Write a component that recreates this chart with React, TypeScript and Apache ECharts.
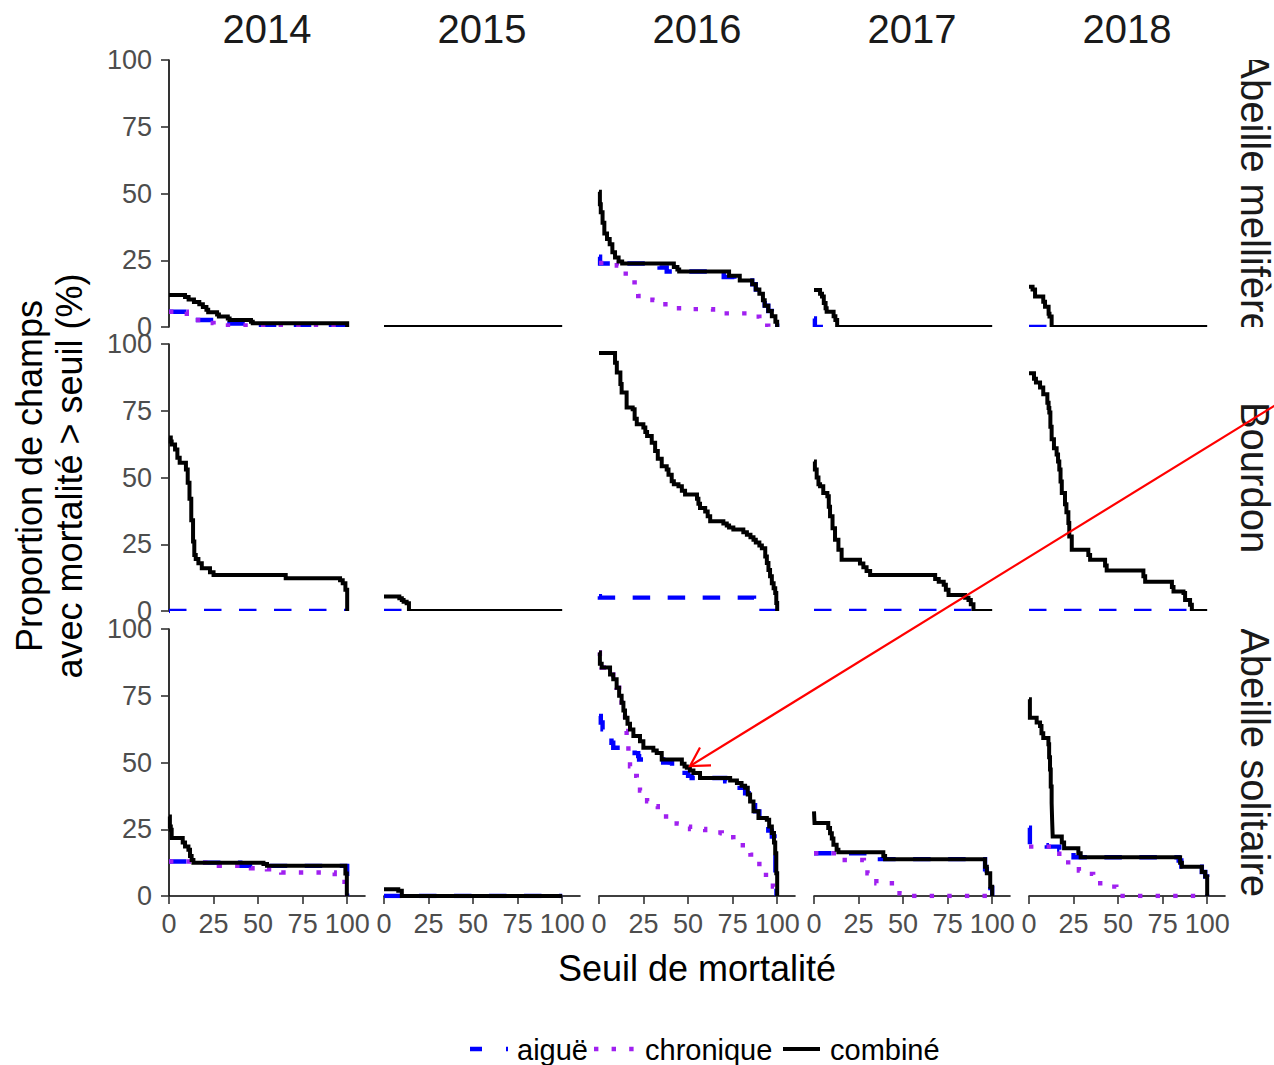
import React, { useEffect, useRef } from 'react';
import * as echarts from 'echarts';

// ---------- labels ----------
const years = ['2014', '2015', '2016', '2017', '2018'];
const groups = ['Abeille mellifère', 'Bourdon', 'Abeille solitaire'];
const seriesNames = ['aiguë', 'chronique', 'combiné'];
const xTicks = [0, 25, 50, 75, 100];
const yTicks = [0, 25, 50, 75, 100];
const axisTitleX = 'Seuil de mortalité';
const axisTitleY = 'Proportion de champs\navec mortalité > seuil (%)';

// ---------- data: [seuil, proportion] (step curves) ----------
// Abeille mellifère
const M14_aigue = [[0, 5.7], [10, 2.6], [28, 1.3], [47, 0], [100, 0]];
const M14_chron = [[0, 5.7], [10, 2.6], [22, 1.5], [25, 0.6], [100, 0]];
const M14_comb = [[0, 12], [9, 11.2], [11, 10.3], [14, 9.4], [17, 8.5], [19, 7.5], [21, 6.5], [22, 5.5], [27, 4.7], [28, 3.9], [33, 3.2], [34, 2.6], [46, 2], [47, 1.4], [100, 0]];
const M15_comb = [[0, 0], [100, 0]];
const M16_aigue = [[0, 26.3], [0.6, 23.8], [34, 22.3], [38, 20.8], [70, 18.7], [76, 17.4], [86, 16], [88, 14], [90, 12.5], [92, 10], [93, 8], [95, 6], [97, 4], [99, 2], [100, 0]];
const M16_chron = [[0, 24], [10, 23], [12, 21.3], [15, 19], [17, 16.7], [20, 14], [22, 11.6], [30, 10.1], [36, 8.5], [39, 7], [48, 6.7], [64, 5.1], [84, 3.9], [90, 2], [92, 0.5], [95, 0], [100, 0]];
const M16_comb = [[0, 50.7], [0.5, 46], [1, 43], [2, 39], [3, 35], [4.5, 33], [6, 31], [7.5, 28], [9, 26], [11, 24.5], [13, 23.8], [42, 22.5], [44, 21.5], [45, 20.8], [73, 19.2], [79, 17.4], [86, 16], [88, 14], [90, 12.5], [92, 10], [93, 8], [95, 6], [97, 4], [99, 2], [100, 0]];
const M17_aigue = [[0, 3.2], [0.5, 0], [13, 0]];
const M17_comb = [[0, 13.9], [3.4, 12.5], [4.5, 11.4], [5.5, 9], [6.5, 7], [7.1, 5.7], [11, 4], [12, 2.6], [13, 0], [100, 0]];
const M18_aigue = [[0, 0], [12.7, 0]];
const M18_comb = [[0, 15.1], [2, 14], [3.4, 11.4], [8, 9.5], [9, 7.6], [11, 5], [11.5, 3.9], [12.7, 0], [100, 0]];

// Bourdon
const B14_aigue = [[0, 0], [100, 0]];
const B14_comb = [[0, 65], [1, 63.5], [1.5, 62.4], [3.4, 60.5], [4.7, 57.4], [6, 55.5], [9.5, 53], [10.5, 48], [11.5, 42], [12.5, 34], [13.5, 26], [14.2, 21], [15, 19.5], [16.5, 17.9], [18.4, 16], [23, 14.5], [25, 13.5], [65.5, 12.3], [96, 11.5], [97.5, 10.4], [99, 8], [100, 0]];
const B15_aigue = [[0, 0], [14, 0]];
const B15_comb = [[0, 5.4], [8.6, 4.8], [10, 4.1], [11, 3.5], [12.7, 2.9], [14, 0], [100, 0]];
const B16_aigue = [[0, 5.5], [0.5, 5], [87, 0], [100, 0]];
const B16_comb = [[0, 96.6], [9, 93], [10, 89.3], [12, 85], [12.7, 81.8], [15.5, 76.2], [18.9, 75.6], [20, 72], [21.2, 69.9], [24.9, 68.7], [26, 67], [27, 65.5], [29.6, 63], [31.5, 59.9], [33, 57], [35.2, 54.2], [38, 53], [39, 51], [40.8, 48.6], [42, 47.5], [44.6, 46.7], [46.5, 45], [48.3, 43.6], [55, 42], [55.8, 40.2], [56.7, 38.6], [59.6, 37.3], [61, 35.5], [62.4, 33.6], [69.8, 32.8], [71.7, 32], [73, 31.3], [75.4, 30.5], [81, 29.5], [83, 28.6], [85, 27.6], [86.7, 26.7], [88, 25.7], [90, 24.5], [91.4, 23.5], [93.3, 20.4], [94.2, 18], [95.1, 15.4], [96, 13], [97, 10.4], [98, 8.5], [98.9, 6.7], [99.5, 3], [100, 0]];
const B17_aigue = [[0, 0], [89.5, 0]];
const B17_comb = [[0, 56], [0.5, 53], [1.5, 50], [2.5, 47.5], [3.4, 46.7], [5.2, 44.2], [7.5, 43], [8.3, 39], [9, 35.5], [10.4, 31], [11.8, 26.7], [13.7, 22.9], [15.5, 19.2], [25.8, 17.8], [27.7, 16.4], [29.5, 15], [31.5, 13.5], [68, 12], [70, 11], [72.8, 9.8], [74, 8], [75.5, 6], [84.8, 5], [86.7, 4.1], [88, 2.5], [89.5, 0], [100, 0]];
const B18_aigue = [[0, 0], [91.4, 0]];
const B18_comb = [[0, 89], [2.8, 87], [3.9, 85.6], [6.2, 83.7], [8, 81.2], [10.3, 78], [11, 76], [11.4, 74.3], [12, 69], [12.7, 64.3], [14, 61], [15.5, 58.6], [16.3, 56], [17, 53], [17.7, 48.5], [18.4, 44.2], [20.2, 40], [21, 37], [22.1, 33], [22.6, 27.9], [24, 22.9], [33.3, 21], [34.3, 19.2], [42.7, 17], [43.6, 15.2], [64.2, 13], [65.2, 11], [80.2, 9], [81.1, 7.3], [86.7, 6.7], [87.6, 4.1], [90.4, 2.3], [91.4, 0], [100, 0]];

// Abeille solitaire
const S14_aigue = [[0, 12.9], [13.7, 12.5], [40, 11.3], [100, 0]];
const S14_chron = [[0, 12.9], [13.7, 12.5], [28, 11.3], [46, 10.4], [55, 10], [63, 8.8], [93, 7.3], [98.5, 1], [99.5, 0]];
const S14_comb = [[0, 29.8], [0.5, 26], [1, 24.8], [1.5, 21.7], [7.7, 20], [9, 18.5], [10.9, 17.3], [11.8, 15], [12.7, 13.5], [13.7, 12.5], [53, 12], [55, 11.3], [99, 8.4], [99.8, 0]];
const S15_aigue = [[0, 0], [100, 0]];
const S15_comb = [[0, 2.5], [8, 2], [10, 0], [100, 0]];
const S16_aigue = [[0, 67.4], [1, 65], [2, 62.4], [5, 60], [7, 57.4], [8, 55.5], [20, 53.5], [22, 52.4], [22.5, 51.1], [36, 50], [38, 49.9], [41, 48], [44.6, 46.1], [50, 45], [52, 44.2], [70.8, 43], [75, 41.5], [77.4, 40.5], [82, 38.5], [84, 36], [86, 34], [87.6, 31.7], [90, 29], [93, 26.7], [95, 24.5], [97, 22.3], [98.5, 16], [99, 8], [99.6, 0]];
const S16_chron = [[0, 91.2], [0.5, 87], [1.5, 85.6], [6.2, 83], [8, 81.2], [9.9, 78], [11.3, 75], [12.7, 69], [14.6, 61.8], [15.5, 57], [16.5, 52], [17.4, 48.6], [19.5, 45], [21.2, 42.3], [23, 39.5], [24.5, 37.3], [27, 35.5], [29.6, 33.6], [33, 31.5], [36.1, 29.8], [40, 28.3], [43.6, 27.1], [47, 26], [51.1, 25.1], [59.6, 23.8], [68.9, 23.5], [72, 22], [75.4, 20.4], [79, 19], [82, 17.5], [85, 15.5], [87.6, 13.3], [90, 10.5], [92.3, 7.9], [95, 5.5], [97.6, 3.5], [99, 0], [100, 0]];
const S16_comb = [[0, 91.2], [0.5, 87], [1.5, 85.6], [6.2, 83], [8, 81.2], [9.9, 78], [11.3, 75], [12.7, 72.4], [13.7, 69.5], [14.6, 66.8], [16, 64.5], [17.4, 62.4], [19.3, 59.9], [23, 58], [24.9, 55.5], [30.5, 54.5], [32.4, 53.6], [35.2, 51.1], [46.5, 49.5], [48, 48.5], [49.3, 48], [51, 47], [53, 46.1], [56.7, 44.2], [73.6, 43.3], [77.4, 42.3], [80, 41.3], [82, 40.5], [83.5, 38], [84.8, 35.4], [86.7, 31.7], [89.5, 29.2], [94.2, 28.6], [95.5, 26], [97, 23.6], [98.2, 20], [98.9, 16], [99.5, 8.5], [100, 0]];
const S17_aigue = [[0, 16], [37, 13.8], [96, 10], [97, 8], [99, 3], [100, 0]];
const S17_chron = [[0, 16], [14, 13.5], [28, 11], [30, 8.5], [35, 4.8], [45, 4.1], [48, 1], [51, 0], [100, 0]];
const S17_comb = [[0, 31.7], [0.3, 27.3], [8, 25.5], [9, 23.5], [10, 21.5], [10.9, 19.2], [12.7, 17.3], [13.7, 16.4], [38.9, 15], [39.9, 13.8], [96, 11], [97, 8.5], [98.9, 3.5], [100, 0]];
const S18_aigue = [[0, 25.6], [0.5, 19], [10, 18.5], [17, 17.3], [25, 14.5], [84, 13.3], [85.5, 11], [97, 9], [98.9, 7.3], [100, 0]];
const S18_chron = [[0, 18.5], [14, 17], [17, 14.7], [22, 11], [28, 9.5], [32, 8.3], [36, 6], [38, 4.8], [45, 3.5], [49, 1], [51, 0], [100, 0]];
const S18_comb = [[0, 73.7], [0.5, 66.8], [4.3, 65], [6.2, 63.7], [7, 61], [8, 59.2], [10.9, 56.8], [11.3, 52], [11.8, 47.4], [12.2, 41], [12.7, 34.8], [13, 28], [13.3, 22.3], [18.4, 20], [19.7, 17.9], [27.7, 16], [29, 14.5], [84.8, 12.5], [85.8, 11], [97, 9], [98.9, 7.3], [100, 0]];

// panel table: [row][col] -> [aiguë, chronique, combiné]
const panels = [
  [[M14_aigue, M14_chron, M14_comb], [null, null, M15_comb], [M16_aigue, M16_chron, M16_comb], [M17_aigue, null, M17_comb], [M18_aigue, null, M18_comb]],
  [[B14_aigue, null, B14_comb], [B15_aigue, null, B15_comb], [B16_aigue, null, B16_comb], [B17_aigue, null, B17_comb], [B18_aigue, null, B18_comb]],
  [[S14_aigue, S14_chron, S14_comb], [S15_aigue, null, S15_comb], [S16_aigue, S16_chron, S16_comb], [S17_aigue, S17_chron, S17_comb], [S18_aigue, S18_chron, S18_comb]],
];

// ---------- layout / style ----------
const COL_LEFT = [169, 384, 599, 814, 1029];
const ROW_TOP = [60, 344, 629];
const PANEL_W = 196;
const PANEL_H = 267;
const FONT = "'Liberation Sans', Arial, sans-serif";
const LINE_STYLES: any[] = [
  { color: '#0000FF', width: 4.4, type: [17.5, 17.5] },
  { color: '#A020F0', width: 4.4, type: [4.4, 13.2] },
  { color: '#000000', width: 4.0, type: 'solid' },
];

function buildOption() {
  const grid: any[] = [];
  const xAxis: any[] = [];
  const yAxis: any[] = [];
  const series: any[] = [];
  for (let r = 0; r < 3; r++) {
    for (let c = 0; c < 5; c++) {
      const idx = r * 5 + c;
      grid.push({ left: COL_LEFT[c], top: ROW_TOP[r], width: PANEL_W, height: PANEL_H, containLabel: false });
      xAxis.push({
        gridIndex: idx, type: 'value', min: 0, max: 110, show: r === 2,
        axisLine: { show: true, onZero: false, lineStyle: { color: '#000', width: 1.6 } },
        axisTick: { show: true, length: 8, customValues: xTicks, lineStyle: { color: '#333', width: 1.6 } },
        axisLabel: { show: true, customValues: xTicks, fontSize: 27, color: '#4D4D4D', fontFamily: FONT, margin: 14 },
        splitLine: { show: false },
      });
      yAxis.push({
        gridIndex: idx, type: 'value', min: 0, max: 100, interval: 25, show: c === 0,
        axisLine: { show: true, onZero: false, lineStyle: { color: '#000', width: 1.6 } },
        axisTick: { show: true, length: 8, lineStyle: { color: '#333', width: 1.6 } },
        axisLabel: { show: true, fontSize: 27, color: '#4D4D4D', fontFamily: FONT, margin: 17 },
        splitLine: { show: false },
      });
      panels[r][c].forEach((d: any, s: number) => {
        if (!d) return;
        series.push({
          name: seriesNames[s], type: 'line', step: 'end', data: d,
          xAxisIndex: idx, yAxisIndex: idx, symbol: 'none', showSymbol: false, silent: true,
          lineStyle: { ...LINE_STYLES[s], join: 'miter', cap: 'butt' },
        });
      });
    }
  }

  const graphic: any[] = [];
  // column strips
  years.forEach((y, c) => {
    graphic.push({ type: 'text', x: COL_LEFT[c] + 98, y: 29, z: 90, style: { text: y, fontSize: 40, fontFamily: FONT, fill: '#1A1A1A', align: 'center', verticalAlign: 'middle' } });
  });
  // row strips
  groups.forEach((g, r) => {
    graphic.push({ type: 'text', x: 1255, y: ROW_TOP[r] + PANEL_H / 2, rotation: -Math.PI / 2, z: 90, style: { text: g, fontSize: 40, fontFamily: FONT, fill: '#1A1A1A', align: 'center', verticalAlign: 'middle' } });
  });
  // masks (clip row strips + half of lines lying on 0 in rows without x axis)
  const masks = [
    [1234, 0, 40, 60], [1234, 327, 40, 17], [1234, 611, 40, 18], [1234, 896, 40, 20],
    [170, 327, 1060, 16.5], [170, 611, 1060, 17.5],
  ];
  masks.forEach(([x, y, w, h]) => {
    graphic.push({ type: 'rect', z: 100, shape: { x, y, width: w, height: h }, style: { fill: '#FFFFFF' } });
  });
  // axis titles
  graphic.push({ type: 'text', x: 697, y: 968, z: 90, style: { text: axisTitleX, fontSize: 36, fontFamily: FONT, fill: '#000', align: 'center', verticalAlign: 'middle' } });
  graphic.push({ type: 'text', x: 49, y: 476, rotation: Math.PI / 2, z: 90, style: { text: axisTitleY, fontSize: 36, lineHeight: 40, fontFamily: FONT, fill: '#000', align: 'center', verticalAlign: 'middle' } });
  // legend
  const LY = 1049;
  graphic.push({ type: 'line', z: 90, shape: { x1: 470, y1: LY, x2: 508, y2: LY }, style: { stroke: '#0000FF', lineWidth: 4.4, lineDash: [12, 24] } });
  graphic.push({ type: 'text', x: 517, y: LY + 1, z: 90, style: { text: seriesNames[0], fontSize: 29, fontFamily: FONT, fill: '#000', align: 'left', verticalAlign: 'middle' } });
  graphic.push({ type: 'line', z: 90, shape: { x1: 594, y1: LY, x2: 636, y2: LY }, style: { stroke: '#A020F0', lineWidth: 4.4, lineDash: [4.4, 13.2] } });
  graphic.push({ type: 'text', x: 645, y: LY + 1, z: 90, style: { text: seriesNames[1], fontSize: 29, fontFamily: FONT, fill: '#000', align: 'left', verticalAlign: 'middle' } });
  graphic.push({ type: 'line', z: 90, shape: { x1: 783, y1: LY, x2: 820, y2: LY }, style: { stroke: '#000', lineWidth: 4 } });
  graphic.push({ type: 'text', x: 830, y: LY + 1, z: 90, style: { text: seriesNames[2], fontSize: 29, fontFamily: FONT, fill: '#000', align: 'left', verticalAlign: 'middle' } });
  // red arrow annotation
  graphic.push({ type: 'line', z: 110, shape: { x1: 1280, y1: 402.3, x2: 690, y2: 766 }, style: { stroke: '#FF0000', lineWidth: 2.2 } });
  graphic.push({ type: 'polyline', z: 110, shape: { points: [[700, 747.5], [690, 766], [711, 765.4]] }, style: { stroke: '#FF0000', lineWidth: 2.2, fill: null } });

  return { animation: false, backgroundColor: '#FFFFFF', grid, xAxis, yAxis, series, graphic };
}

export default function App() {
  const ref = useRef<HTMLDivElement>(null);
  useEffect(() => {
    if (!ref.current) return;
    const chart = echarts.init(ref.current, null, { renderer: 'svg' });
    chart.setOption(buildOption() as any);
    return () => chart.dispose();
  }, []);
  return <div ref={ref} style={{ position: 'absolute', left: 0, top: 0, width: 1274, height: 1065, background: '#fff' }} />;
}
